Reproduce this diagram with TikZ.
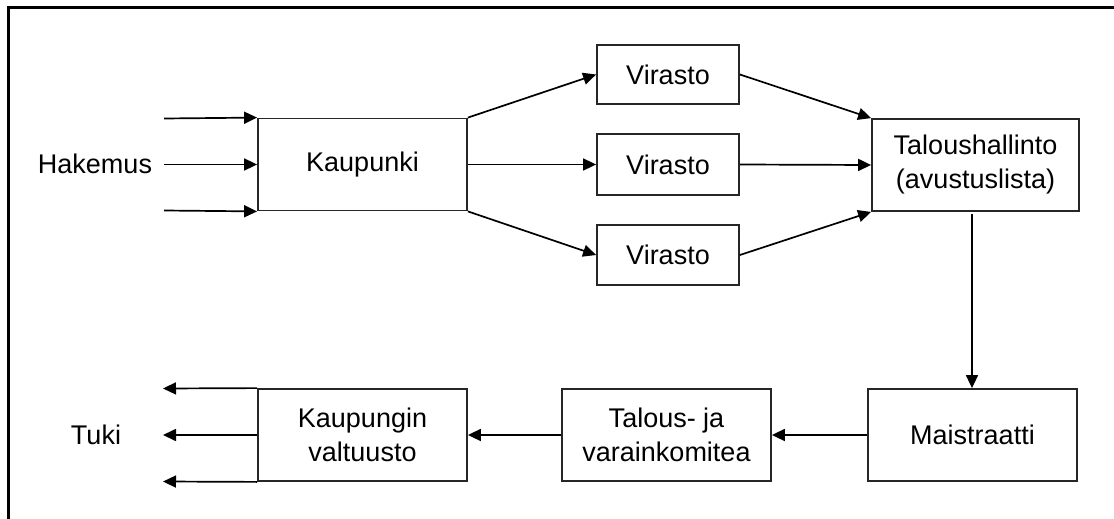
\documentclass[tikz,border=0pt]{standalone}
\usepackage{fontspec}
\setmainfont{Liberation Sans}
\usetikzlibrary{arrows.meta}
\begin{document}
\begin{tikzpicture}[x=1pt,y=-1pt,
  every node/.style={font=\fontsize{27}{34}\selectfont},
  box/.style={draw=black!85, line width=1.8pt, rectangle, inner sep=0pt, align=center},
  flow/.style={line width=1.7pt, -{Triangle[length=13pt,width=12pt]}}]
\useasboundingbox (0,0) rectangle (1114,519);
% frame (only left and top edges fall inside the page)
\draw[line width=3pt] (8.5,521) -- (8.5,7.5) -- (1116,7.5);

% boxes
\node[box, minimum width=209pt, minimum height=92pt] (kaup) at (362.5,164.5) {Kaupunki};
\node[box, minimum width=142pt, minimum height=59pt] (v1) at (668,74.5) {Virasto};
\node[box, minimum width=142pt, minimum height=61pt] (v2) at (668,164.5) {Virasto};
\node[box, minimum width=142pt, minimum height=60pt] (v3) at (668,255) {Virasto};
\node[box, minimum width=207pt, minimum height=92pt] (tal) at (975.5,165) {Taloushallinto\\(avustuslista)};
\node[box, minimum width=209pt, minimum height=92pt] (mai) at (972.5,435) {Maistraatti};
\node[box, minimum width=209pt, minimum height=92pt] (kom) at (666.5,435) {Talous- ja\\varainkomitea};
\node[box, minimum width=209pt, minimum height=92pt] (val) at (362.5,435) {Kaupungin\\valtuusto};

% labels
\node (hak) at (95,164) {Hakemus};
\node (tuki) at (96,435) {Tuki};

% incoming applications
\coordinate (i1) at (164,118.5);
\coordinate (i2) at (164,164.5);
\coordinate (i3) at (164,210.5);
\draw[flow] (i1) -- (kaup.north west);
\draw[flow] (i2) -- (kaup.west);
\draw[flow] (i3) -- (kaup.south west);

% city to the agencies
\draw[flow] (kaup.north east) -- (v1.west);
\draw[flow] (kaup.east) -- (v2.west);
\draw[flow] (kaup.south east) -- (v3.west);

% agencies to financial administration
\draw[flow] (v1.east) -- (tal.north west);
\draw[flow] (v2.east) -- (tal.west);
\draw[flow] (v3.east) -- (tal.south west);

% down the chain
\draw[flow] (tal.south) ++(-3.5,2) coordinate (ts) -- (ts |- mai.north);
\draw[flow] (mai.west) -- (kom.east);
\draw[flow] (kom.west) -- (val.east);

% outgoing support
\coordinate (o1) at (163,388.5);
\coordinate (o2) at (163,435);
\coordinate (o3) at (163,481.5);
\draw[flow] (val.north west) -- (o1);
\draw[flow] (val.west) -- (o2);
\draw[flow] (val.south west) -- (o3);
\end{tikzpicture}
\end{document}
